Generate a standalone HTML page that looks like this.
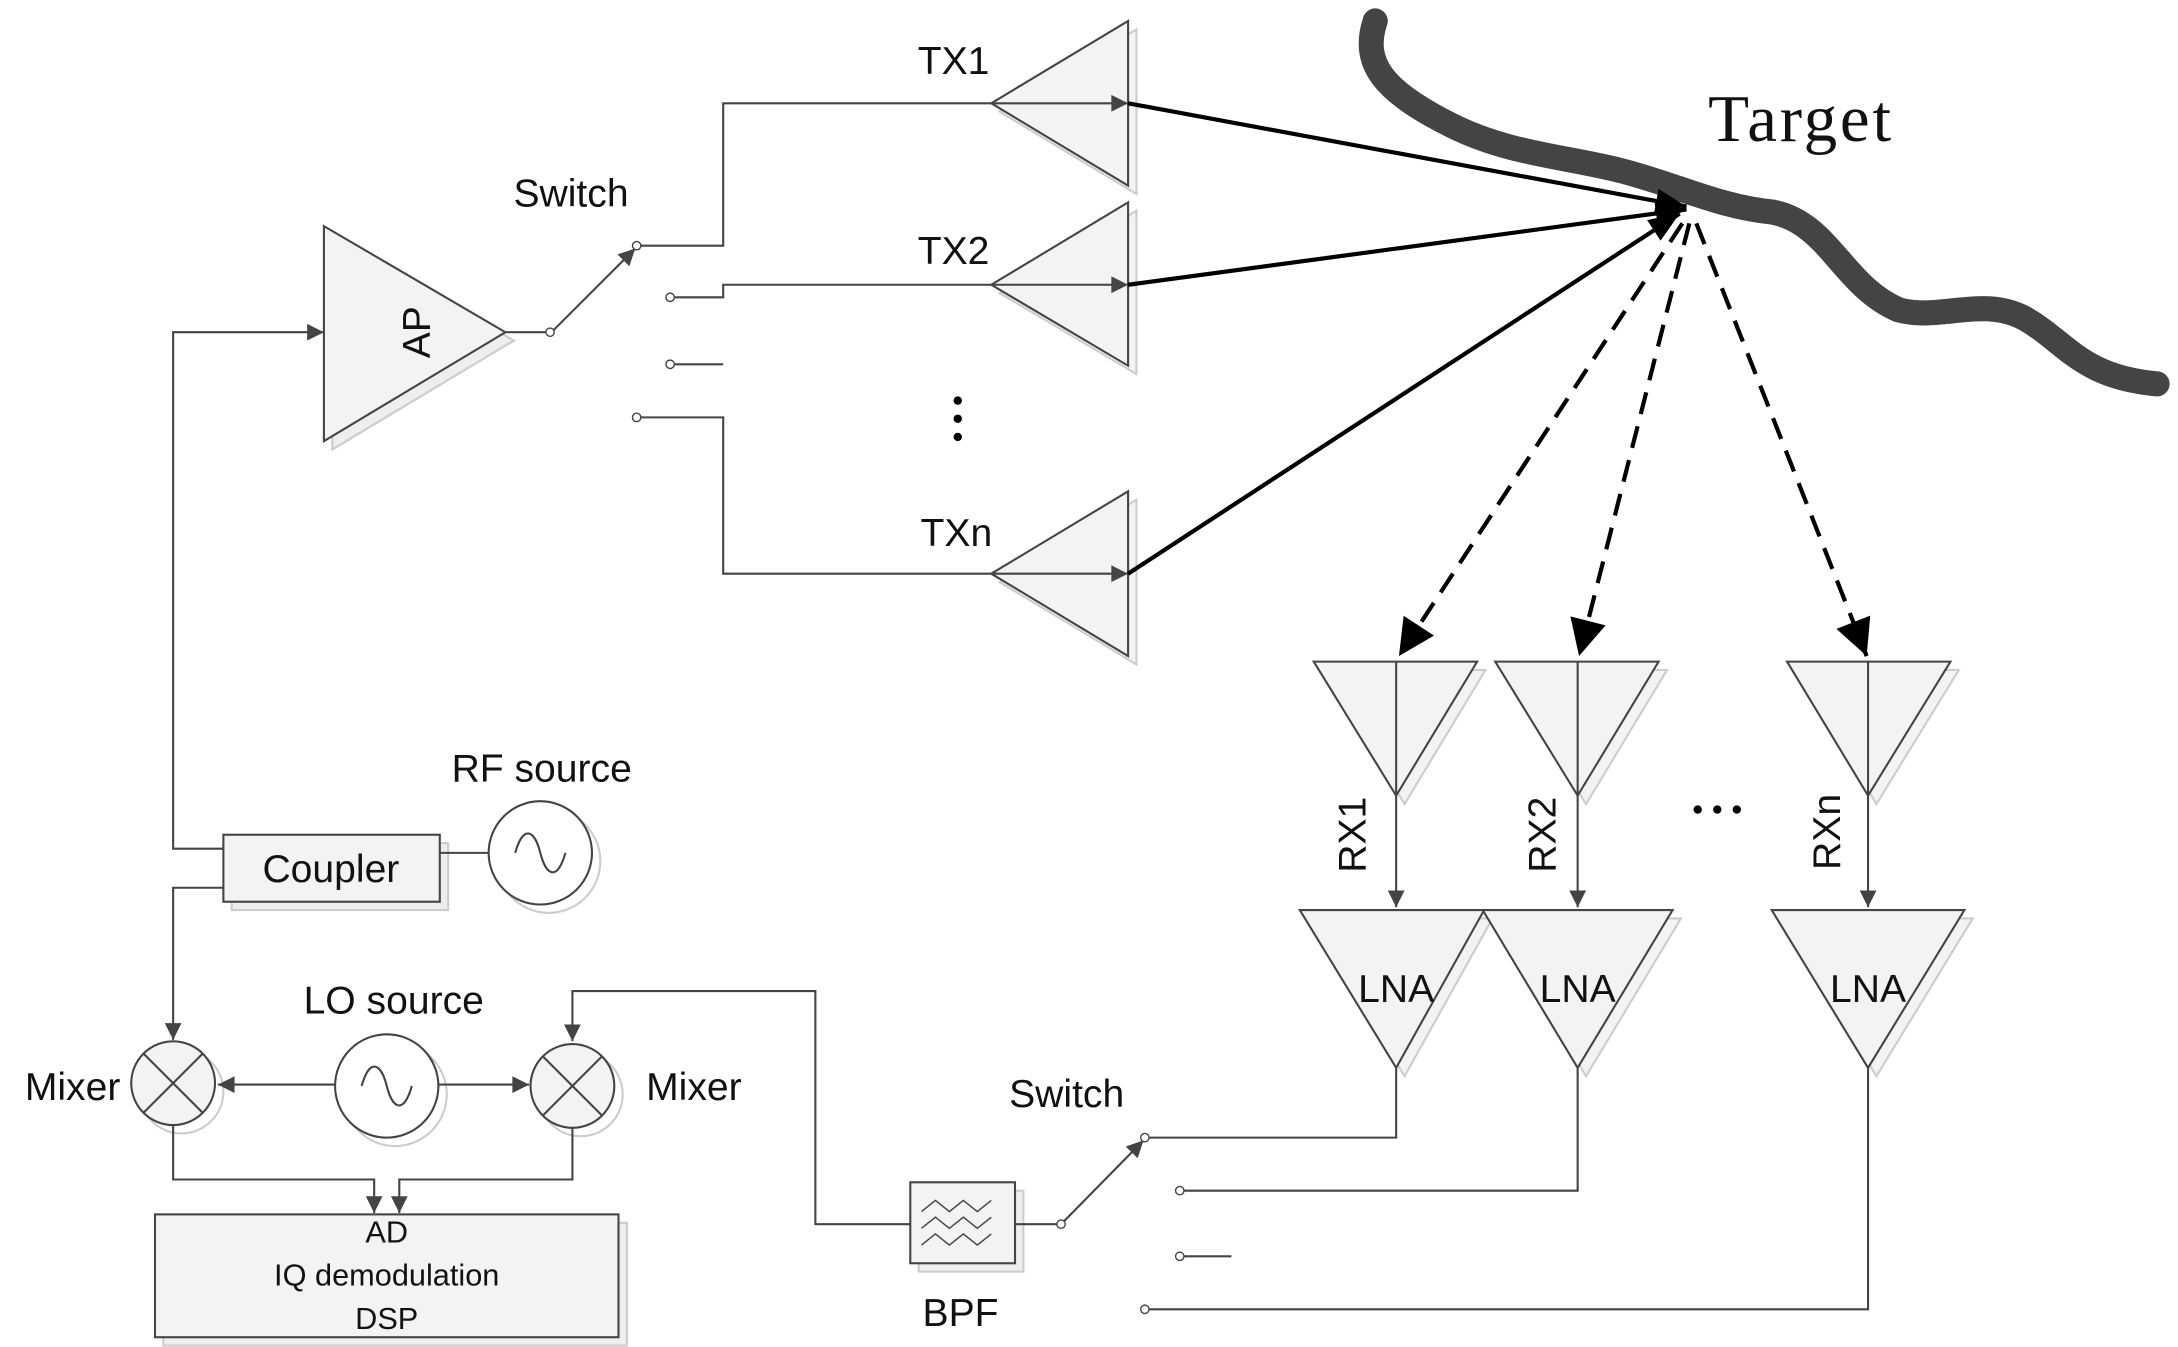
<!DOCTYPE html>
<html><head><meta charset="utf-8"><style>
html,body{margin:0;padding:0;background:#fff;}
svg{display:block;}
text{font-family:"Liberation Sans",sans-serif;fill:#111;}
</style></head><body>
<svg width="2178" height="1347" viewBox="0 0 1560 965" preserveAspectRatio="none" xmlns="http://www.w3.org/2000/svg">
<defs>
<marker id="ag" viewBox="0 0 10 10" refX="10" refY="5" markerWidth="16" markerHeight="12" orient="auto" markerUnits="userSpaceOnUse"><path d="M0,0L10,5L0,10z" fill="#444"/></marker>
<marker id="as" viewBox="0 0 10 10" refX="10" refY="5" markerWidth="24" markerHeight="22" orient="auto" markerUnits="userSpaceOnUse"><path d="M0,1L10,5L0,9z" fill="#000"/></marker>
<marker id="ad" viewBox="0 0 10 10" refX="10" refY="5" markerWidth="34" markerHeight="26" orient="auto" markerUnits="userSpaceOnUse"><path d="M0,0L10,5L0,10z" fill="#000"/></marker>
</defs>
<g fill="none" stroke="#444" stroke-width="1.5">
<g fill="#f3f3f3">
<polygon points="716,80 814,21 814,139" stroke="#ccc"/>
<polygon points="710,74 808,15 808,133"/>
<polygon points="716,210 814,151 814,268" stroke="#ccc"/>
<polygon points="710,204 808,145 808,262"/>
<polygon points="716,417 814,358 814,476" stroke="#ccc"/>
<polygon points="710,411 808,352 808,470"/>
</g>
<line x1="710" y1="74" x2="808" y2="74" marker-end="url(#ag)"/>
<line x1="710" y1="204" x2="808" y2="204" marker-end="url(#ag)"/>
<line x1="710" y1="411" x2="808" y2="411" marker-end="url(#ag)"/>
<polyline points="458,176 518,176 518,74 710,74"/>
<polyline points="482,213 518,213 518,204 710,204"/>
<line x1="482" y1="261" x2="518" y2="261"/>
<polyline points="458,299 518,299 518,411 710,411"/>
<line x1="396" y1="237" x2="455" y2="178" marker-end="url(#ag)"/>
<g fill="#fff" stroke-width="1"><circle cx="456" cy="176" r="3"/><circle cx="480" cy="213" r="3"/><circle cx="480" cy="261" r="3"/><circle cx="456" cy="299" r="3"/><circle cx="394" cy="238" r="3"/></g>
<polygon points="238,168 368,244 238,322" fill="#eee" stroke="#ccc"/>
<polygon points="232,162 362,238 232,316" fill="#f3f3f3"/>
<line x1="362" y1="238" x2="391" y2="238"/>
<polyline points="160,608 124,608 124,238 232,238" marker-end="url(#ag)"/>
<rect x="166" y="604" width="155" height="48" fill="#eee" stroke="#ccc"/>
<rect x="160" y="598" width="155" height="48" fill="#f3f3f3"/>
<line x1="315" y1="611" x2="350" y2="611"/>
<circle cx="393" cy="617" r="37" stroke="#ccc"/>
<circle cx="387" cy="611" r="37" fill="#fff"/>
<path d="M369,611 C375,590 383,595 387,611 C391,627 399,632 405,611"/>
<polyline points="160,636 124,636 124,745" marker-end="url(#ag)"/>
<circle cx="130" cy="782" r="30" stroke="#ccc"/>
<circle cx="124" cy="776" r="30" fill="#f3f3f3"/>
<line x1="103" y1="755" x2="145" y2="797"/><line x1="145" y1="755" x2="103" y2="797"/>
<circle cx="416" cy="784" r="30" stroke="#ccc"/>
<circle cx="410" cy="778" r="30" fill="#f3f3f3"/>
<line x1="389" y1="757" x2="431" y2="799"/><line x1="431" y1="757" x2="389" y2="799"/>
<circle cx="283" cy="784" r="37" stroke="#ccc"/>
<circle cx="277" cy="778" r="37" fill="#fff"/>
<path d="M259,778 C265,757 273,762 277,778 C281,794 289,799 295,778"/>
<line x1="240" y1="777" x2="156" y2="777" marker-end="url(#ag)"/>
<line x1="314" y1="777" x2="379" y2="777" marker-end="url(#ag)"/>
<polyline points="124,806 124,845 268,845 268,869" marker-end="url(#ag)"/>
<polyline points="410,808 410,845 286,845 286,869" marker-end="url(#ag)"/>
<polyline points="652,877 584,877 584,710 410,710 410,746" marker-end="url(#ag)"/>
<rect x="117" y="876" width="332" height="88" fill="#eee" stroke="#ccc"/>
<rect x="111" y="870" width="332" height="88" fill="#f3f3f3"/>
<rect x="658" y="853" width="75" height="58" fill="#eee" stroke="#ccc"/>
<rect x="652" y="847" width="75" height="58" fill="#f3f3f3"/>
<path d="M660,868 l10,-8 l10,8 l10,-8 l10,8 l10,-8 M660,880 l10,-8 l10,8 l10,-8 l10,8 l10,-8 M660,892 l10,-8 l10,8 l10,-8 l10,8 l10,-8" stroke-width="1"/>
<line x1="727" y1="877" x2="757" y2="877"/>
<line x1="762" y1="875" x2="819" y2="817" marker-end="url(#ag)"/>
<polyline points="822,815 1000,815 1000,765"/>
<polyline points="847,853 1130,853 1130,765"/>
<line x1="847" y1="900" x2="882" y2="900"/>
<polyline points="822,938 1338,938 1338,765"/>
<g fill="#fff" stroke-width="1"><circle cx="820" cy="815" r="3"/><circle cx="845" cy="853" r="3"/><circle cx="845" cy="900" r="3"/><circle cx="820" cy="938" r="3"/><circle cx="760" cy="877" r="3"/></g>
<g fill="#f3f3f3">
<polygon points="947,480 1064,480 1006,576" stroke="#ccc"/>
<polygon points="941,474 1058,474 1000,570"/>
<polygon points="1077,480 1194,480 1136,576" stroke="#ccc"/>
<polygon points="1071,474 1188,474 1130,570"/>
<polygon points="1286,480 1403,480 1344,576" stroke="#ccc"/>
<polygon points="1280,474 1397,474 1338,570"/>
<polygon points="937,658 1069,658 1006,771" stroke="#ccc"/>
<polygon points="931,652 1063,652 1000,765"/>
<polygon points="1068,658 1204,658 1136,771" stroke="#ccc"/>
<polygon points="1062,652 1198,652 1130,765"/>
<polygon points="1275,658 1413,658 1344,771" stroke="#ccc"/>
<polygon points="1269,652 1407,652 1338,765"/>
</g>
<line x1="1000" y1="474" x2="1000" y2="650" marker-end="url(#ag)"/>
<line x1="1130" y1="474" x2="1130" y2="650" marker-end="url(#ag)"/>
<line x1="1338" y1="474" x2="1338" y2="650" marker-end="url(#ag)"/>
</g>
<path d="M985,15 C975,45 990,65 1040,90 C1080,110 1120,112 1160,122 C1200,132 1230,148 1270,152 C1310,160 1320,205 1360,222 C1390,230 1420,212 1450,228 C1480,245 1490,270 1545,275" fill="none" stroke="#444" stroke-width="18" stroke-linecap="round"/>
<g stroke="#000" stroke-width="3" fill="none">
<line x1="808" y1="74" x2="1208" y2="148" marker-end="url(#as)"/>
<line x1="808" y1="204" x2="1208" y2="150" marker-end="url(#as)"/>
<line x1="808" y1="411" x2="1203" y2="153" marker-end="url(#as)"/>
<g stroke-dasharray="16,9">
<line x1="1205" y1="160" x2="1002" y2="470" marker-end="url(#ad)"/>
<line x1="1210" y1="160" x2="1131" y2="470" marker-end="url(#ad)"/>
<line x1="1215" y1="160" x2="1337" y2="470" marker-end="url(#ad)"/>
</g>
</g>
<g fill="#000"><circle cx="686" cy="287" r="3"/><circle cx="686" cy="300" r="3"/><circle cx="686" cy="313" r="3"/>
<circle cx="1216" cy="580" r="3"/><circle cx="1230" cy="580" r="3"/><circle cx="1244" cy="580" r="3"/></g>
<g font-size="28" text-anchor="middle">
<text x="683" y="53">TX1</text>
<text x="683" y="189">TX2</text>
<text x="685" y="391">TXn</text>
<text x="409" y="148">Switch</text>
<text x="388" y="560">RF source</text>
<text x="237" y="632">Coupler</text>
<text x="282" y="726">LO source</text>
<text x="52" y="788">Mixer</text>
<text x="497" y="788">Mixer</text>
<text x="764" y="793">Switch</text>
<text x="688" y="950">BPF</text>
<text x="1000" y="718">LNA</text>
<text x="1130" y="718">LNA</text>
<text x="1338" y="718">LNA</text>
<text x="298" y="238" transform="rotate(-90 298 238)" dy="10">AP</text>
<text x="968" y="598" transform="rotate(-90 968 598)" dy="10">RX1</text>
<text x="1104" y="598" transform="rotate(-90 1104 598)" dy="10">RX2</text>
<text x="1308" y="596" transform="rotate(-90 1308 596)" dy="10">RXn</text>
</g>
<g font-size="22" text-anchor="middle">
<text x="277" y="890">AD</text>
<text x="277" y="921">IQ demodulation</text>
<text x="277" y="952">DSP</text>
</g>
<text x="1290" y="101" font-size="48" text-anchor="middle" style="font-family:'Liberation Serif',serif;letter-spacing:2px">Target</text>
</svg>
</body></html>
